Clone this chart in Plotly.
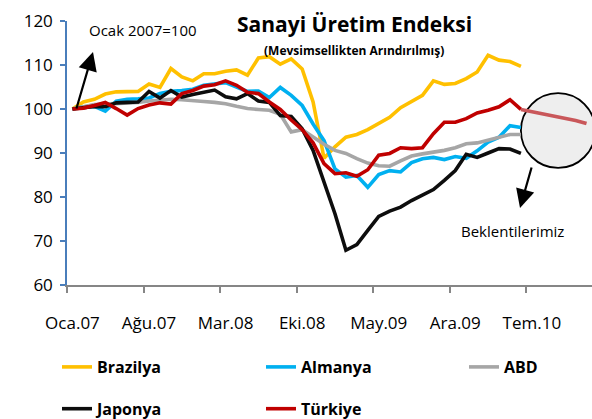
import plotly.graph_objects as go

# ---------------- data ----------------
months_tr = ["Oca", "Şub", "Mar", "Nis", "May", "Haz", "Tem", "Ağu", "Eyl", "Eki", "Kas", "Ara"]
years = ["07", "08", "09", "10"]
month_labels = [f"{m}.{y}" for y in years for m in months_tr]   # Oca.07 ... Ara.10 (48)

brazilya = [100, 101.6, 102.2, 103.4, 103.9, 103.9, 104.0, 105.7, 104.9, 109.2,
            107.3, 106.4, 108.0, 108.0, 108.6, 108.9, 107.7, 111.6, 111.9, 110.2,
            111.4, 109.1, 101.6, 88.8, 91.4, 93.6, 94.2, 95.3, 96.7, 98.1,
            100.3, 101.6, 103.1, 106.4, 105.6, 105.8, 106.9, 108.4, 112.2, 111.1,
            110.8, 109.7]
almanya = [100, 100.5, 100.6, 99.5, 101.8, 102.2, 102.3, 102.5, 103.5, 104.0,
           104.2, 104.5, 105.4, 105.8, 106.0, 105.0, 104.0, 104.1, 102.6, 104.9,
           103.1, 100.8, 96.6, 92.8, 86.4, 84.5, 84.9, 82.2, 85.1, 86.0,
           85.7, 87.8, 88.7, 89.0, 88.5, 89.2, 88.8, 90.5, 92.5, 93.6,
           96.2, 95.8]
abd = [100, 100.6, 101.0, 101.1, 101.2, 101.3, 101.5, 101.8, 102.0, 102.2,
       102.1, 102.0, 101.7, 101.5, 101.2, 100.6, 100.1, 99.9, 99.7, 98.8,
       94.8, 95.3, 93.6, 92.0, 90.6, 89.9, 88.7, 87.7, 87.1, 87.0,
       88.2, 89.3, 89.8, 90.1, 90.6, 91.2, 92.1, 92.3, 92.9, 93.7,
       94.2, 94.2]
japonya = [100, 100.4, 100.6, 100.5, 101.4, 101.5, 101.6, 104.0, 102.5, 104.2,
           102.7, 103.3, 103.9, 104.3, 102.8, 102.3, 103.5, 101.8, 101.5, 98.5,
           98.3, 95.5, 90.6, 83.5, 76.2, 67.9, 69.2, 72.4, 75.6, 76.8,
           77.7, 79.2, 80.5, 81.7, 83.8, 86.0, 89.7, 89.0, 90.0, 91.0,
           90.9, 89.9]
turkiye = [100, 100.2, 100.8, 101.5, 100.1, 98.6, 100.1, 100.9, 101.4, 101.1,
           103.5, 104.2, 105.2, 105.5, 106.4, 105.4, 103.8, 103.5, 101.6, 99.9,
           97.5, 95.3, 92.3, 87.6, 85.3, 85.5, 84.7, 86.2, 89.5, 89.9,
           91.2, 91.0, 91.2, 94.4, 97.0, 97.0, 97.8, 99.1, 99.7, 100.5,
           102.1, 99.9]
turkiye_beklenti = [99.9, 99.4, 98.9, 98.5, 98.0, 97.4, 96.7]   # Haz.10 ... Ara.10

tick_step = 7

# ---------------- figure ----------------
n_actual = len(brazilya)
x_actual = list(range(n_actual))
x_forecast = list(range(n_actual - 1, n_actual - 1 + len(turkiye_beklenti)))

series = [
    ("Brazilya", brazilya, "#FFC000", "legend"),
    ("Almanya", almanya, "#00B0F0", "legend2"),
    ("ABD", abd, "#A6A6A6", "legend3"),
    ("Japonya", japonya, "#0D0D0D", "legend"),
    ("Türkiye", turkiye, "#C00000", "legend2"),
]

fig = go.Figure()
for name, vals, color, lg in series:
    fig.add_trace(go.Scatter(
        x=x_actual, y=vals, mode="lines", name=name,
        line=dict(color=color, width=3.6),
        legend=lg, legendgroup=name,
        customdata=[month_labels[i] for i in x_actual],
        hovertemplate="%{customdata}: %{y}<extra>" + name + "</extra>",
    ))

fig.add_trace(go.Scatter(
    x=x_forecast, y=turkiye_beklenti, mode="lines", name="Beklentilerimiz",
    line=dict(color="#C9575A", width=3.6), showlegend=False,
))

FONT = "Open Sans"
W, H = 592, 419
ML, MR, MT, MB = 67, 0, 21, 134

tickvals = list(range(0, len(month_labels), tick_step))
fig.update_xaxes(
    range=[-0.5, len(month_labels) - 0.5],
    tickmode="array", tickvals=tickvals,
    ticktext=[month_labels[i] for i in tickvals],
    ticks="", showgrid=False, zeroline=False,
    showline=True, linecolor="#868686", linewidth=1.5,
    ticklabelstandoff=22,
    tickfont=dict(family=FONT, size=17, color="#000"),
    minor=dict(tick0=-0.5, dtick=tick_step, ticks="outside", ticklen=6,
               tickcolor="#868686", tickwidth=1.5, showgrid=False),
)
fig.update_yaxes(
    range=[60, 120], dtick=10, tick0=60,
    ticks="outside", ticklen=5, tickcolor="#4A7EBB", tickwidth=1.5,
    showgrid=False, zeroline=False,
    showline=True, linecolor="#4A7EBB", linewidth=1.5,
    ticklabelstandoff=4,
    tickfont=dict(family=FONT, size=17, color="#000"),
)

# circle highlighting expectations (drawn below the lines)
fig.add_shape(type="circle", xref="x", yref="y",
              x0=41.0, x1=47.8, y0=86.6, y1=103.6,
              fillcolor="#EEEEEE", line=dict(color="#000", width=1.8),
              layer="below")

def px2paper(px, py):
    return (px - ML) / (W - ML - MR), (H - MB - py) / (H - MT - MB)

ax1, ay1 = px2paper(93, 52)
ax2, ay2 = px2paper(520, 208)
t1x, t1y = px2paper(143, 30)
t2x, t2y = px2paper(512, 231)

annotations = [
    dict(xref="paper", yref="paper", x=ax1, y=ay1, ax=-17, ay=58,
         showarrow=True, arrowhead=2, arrowsize=1.7, arrowwidth=2.2,
         arrowcolor="#000", text=""),
    dict(xref="paper", yref="paper", x=ax2, y=ay2, ax=12, ay=-42,
         showarrow=True, arrowhead=2, arrowsize=1.7, arrowwidth=2.2,
         arrowcolor="#000", text=""),
    dict(xref="paper", yref="paper", x=t1x, y=t1y, showarrow=False,
         text="Ocak 2007=100", font=dict(family=FONT, size=15, color="#000"),
         xanchor="center", yanchor="middle"),
    dict(xref="paper", yref="paper", x=t2x, y=t2y, showarrow=False,
         text="Beklentilerimiz", font=dict(family=FONT, size=15, color="#000"),
         xanchor="center", yanchor="middle"),
    dict(xref="paper", yref="paper", x=px2paper(354, 24)[0], y=px2paper(354, 24)[1],
         showarrow=False, text="<b>Sanayi Üretim Endeksi</b>",
         font=dict(family=FONT, size=21, color="#000"),
         xanchor="center", yanchor="middle"),
    dict(xref="paper", yref="paper", x=px2paper(354, 50)[0], y=px2paper(354, 50)[1],
         showarrow=False, text="<b>(Mevsimsellikten Arındırılmış)</b>",
         font=dict(family=FONT, size=12, color="#000"),
         xanchor="center", yanchor="middle"),
]

leg_font = dict(family=FONT, size=16, color="#000", weight="bold")
leg_y = px2paper(0, 350)[1]
def legend_at(px):
    return dict(x=px2paper(px, 0)[0], y=leg_y, xanchor="left", yanchor="top",
                orientation="v", font=leg_font, bgcolor="rgba(0,0,0,0)",
                tracegroupgap=18, itemwidth=30)

fig.update_layout(
    width=W, height=H,
    margin=dict(l=ML, r=MR, t=MT, b=MB, autoexpand=False),
    paper_bgcolor="white", plot_bgcolor="white",
    font=dict(family=FONT, color="#000"),
    showlegend=True,
    legend=legend_at(57),
    legend2=legend_at(261),
    legend3=legend_at(464),
    annotations=annotations,
)

fig.write_html("out.html", config={"displayModeBar": False},
               post_script="document.body.style.margin='0px';document.body.style.overflow='hidden';")
